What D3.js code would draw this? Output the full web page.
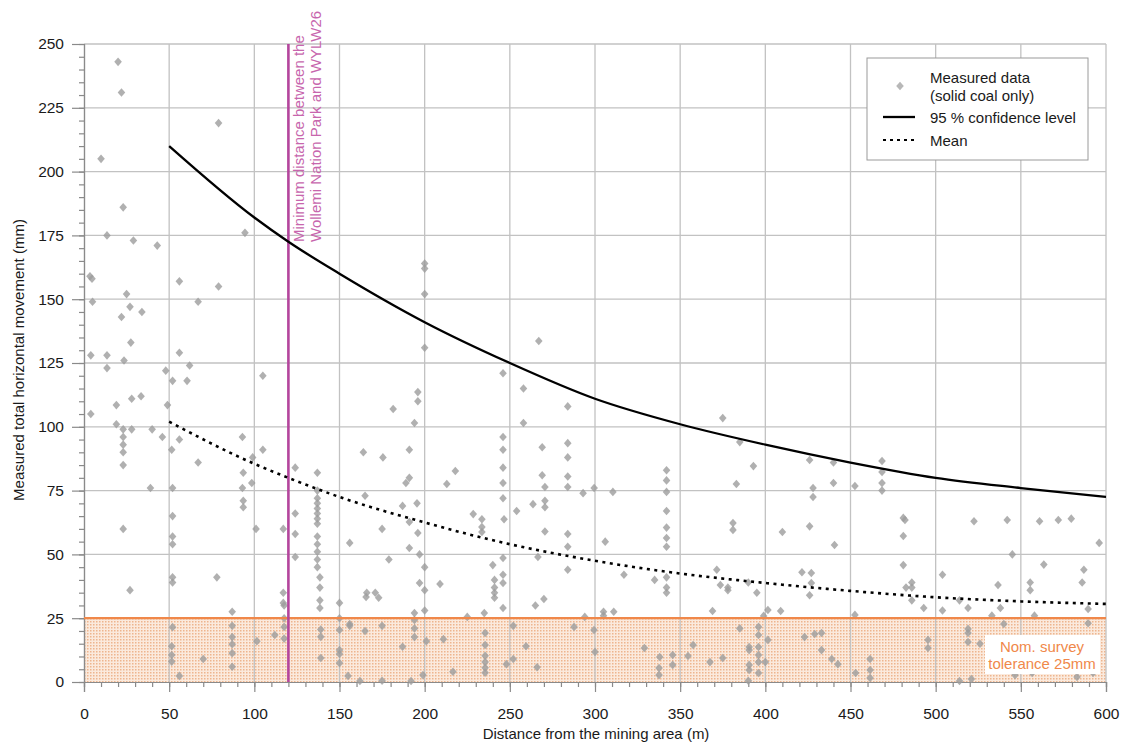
<!DOCTYPE html>
<html><head><meta charset="utf-8">
<script src="https://cdn.jsdelivr.net/npm/d3@7"></script>
<style>
html,body{margin:0;padding:0;background:#fff;}
svg{display:block;font-family:"Liberation Sans",Arial,sans-serif;}
</style></head>
<body><svg id="c" width="1121" height="744"></svg>
<script>
// ---- data ----
const xTicks = [0,50,100,150,200,250,300,350,400,450,500,550,600];
const yTicks = [0,25,50,75,100,125,150,175,200,225,250];
const curveDist = [50,100,120,150,200,250,300,350,400,450,500,550,600];
const conf95 = [210,182,172.5,160,141,125,111,101,93,86,80,76,72.5];
const meanVals = [102,85.5,80,72.5,62.5,54,47.5,42.5,38.8,35.7,33.2,31.6,30.6];
const boundaryDist = 120;
const toleranceMM = 25;
const measuredDist = [
20,22,10,23,13.5,29,43,79,94.5,3.5,4.7,56,79,25,27,34,22,5,67,27.5,4,13.5,13.5,23.5,56,62,48,52,60.5,105,28,33.5,19,4,49,19,23,28,40,46,23,
23,23,23,56,51.5,93,105,99,67,93.5,124,137,39,52,93,98.5,93.5,93.5,124,137,137,137,137,137,137,137,23,52,52,52,124,124,137,137,137,137,137,101,117,156,164,138.5,138.5,138.5,78,52,52,27,87,117,117,138.5,150,166,171,
52,51.5,51.5,51.5,56,70,87,87,87,87,87,101.5,112,117.5,117.5,117.5,117.5,139,139,139,150,150,150,150,150,156,155,
200,200,200,200,267,196,196,258,246,181.5,194,258,284,246,246,246,269,284,284,284,191,175.5,218,191,269,299.5,
189,213,246,246,270.6,284,293,310.5,165,187,195.5,263.6,270.6,270.6,254,228.5,233.6,233.6,233.6,246.6,191,175,270.6,284,284,306,196,191,197,179,246,240,266.5,284,317,246,241,241,241,241,246,197,209,165.6,173,270,265,246,235,194,194,225,305,305,311,294,
156,165,175,194,194,201,211,187,162,175,192,199,216.6,235.5,235.5,235.5,235.5,235.5,235.5,252,252,248,259.5,266,287.7,299.4,300,200,200,200,
375,385,393,383,342,342,342,342,342,342,342,342,342,342,426,440,440,428,428,452.6,468.5,468.5,468.5,468.5,381,381,410,426,440.6,481,481,481,486,486,486,335,371.5,373.6,378,378,390,395,421.5,427,427,426,369,401.5,409,399,452.6,
385,396,396,396,401.5,390.5,390.5,396,396,400,390.5,390.5,396,390,423,429,433,433,439,442.6,453,461.5,461.5,461.5,329,338,345.6,345.6,337.6,337.6,354.6,357.6,367.5,375,
504,519,533,540,558,589.5,589.5,495.5,495.5,519,519,519,526,521,514,546.6,556.6,583,592.4,
522.5,542,561,572,579.6,545,555.5,563.5,586,596,587,504,536.6,514,555.5,493,482.6,538,482
];
const measuredMove = [
243,231,205,186,175,173,171,219,176,159,158,157,155,152,147,145,143,149,149,133,128,128,123,126,129,124,122,118,118,120,111,112,108.5,105,108.5,101,99,99,99,96,96,
93,90,85,95,91,96,91,88,86,82,84,82,76,76,76,78,71,68.5,66,75,72,70,68,66,64,62,60,65,57,54,58,49,57,54,51,48,45,60,60,54.5,90,41,37,32,41,41,39,36,27.5,35,31,29,31,35,35,
21.5,14,10.6,8,2.4,9,22,17.6,14.8,11.3,6,16,18.4,25,21.6,17,30,20.6,17.7,9.4,25,20.4,12.5,11,7.4,22,2.4,
164,162,152,131,133.6,113.6,110,115,121,107,101.5,101.5,108,96,91,84,92,93.6,88,80.5,91,88,82.7,80,81,76,
78,77.6,78,72,76.4,76.4,74,74.5,73,69,70,69.7,71,68.5,67,65.8,63.8,60.7,58.8,63.8,62.7,60,59,58,53,55,58.4,52.5,50,48,48.6,45.8,49,44,42,42,40,37,35,33,38.8,38.8,38.4,33.3,33,32.5,30,29,27,27,24.3,25.5,27.5,26,27.5,25.5,
22.7,20,22,21,17.6,16,16.8,13.8,0.4,0.5,0.4,2.7,4,19.2,14.5,10.3,7.8,5.6,3.6,22,9,7,14,5.8,21.6,20.4,11.8,45,36,28,
103.4,94,84.6,77.6,83,79,74.5,67,60.5,56.4,53,41,37,35,87,86,78,76,72.5,76.8,86.6,82.3,78,75,62.3,59.6,58.8,61,53.7,64.3,57.2,45.8,39,37,32,40,44,38,37,36,39,35,43,42.7,38.8,34,27.8,28.2,27.8,25.9,26.3,
21,21.6,18.4,13.7,16.5,13.7,12.5,10.6,7.8,7.8,6.7,4.7,3.5,0.5,17.6,18.8,19.2,12.5,9,7,3.5,9,4.7,1.6,13.3,9.8,10.6,6.7,5.5,2.7,10.2,14.5,7.8,9.4,
28,29,26,22.7,26,28.6,23,16.5,13.3,20.8,19.2,15.7,15,1.2,0.4,2.7,3.5,2,3.5,
63,63.5,63,63.5,64,50,39,46,39,54.5,44,42,38,32,36,29,37,29,63.5
];
const legendLabels = ["Measured data","(solid coal only)","95 % confidence level","Mean"];
const boundaryLabel = ["Minimum distance between the","Wollemi Nation Park and WYLW26"];
const toleranceLabel = ["Nom. survey","tolerance 25mm"];

// ---- drawing ----
const svg = d3.select("#c");
const x = d3.scaleLinear().domain([0,600]).range([84,1106]);
const y = d3.scaleLinear().domain([0,250]).range([682,44]);

const defs = svg.append("defs");
const pat = defs.append("pattern").attr("id","dots").attr("patternUnits","userSpaceOnUse")
  .attr("width",3).attr("height",3);
pat.append("rect").attr("width",3).attr("height",3).attr("fill","#fbeadd");
pat.append("rect").attr("x",0).attr("y",0).attr("width",1.5).attr("height",1.5).attr("fill","#eeb58e");

// tolerance shading
svg.append("rect").attr("x",x(0)).attr("y",y(toleranceMM))
  .attr("width",x(600)-x(0)).attr("height",y(0)-y(toleranceMM)).attr("fill","url(#dots)");

// grid
const grid = svg.append("g").attr("stroke","#c2c2c2").attr("stroke-width",1.3);
grid.selectAll(".v").data(xTicks.filter(d=>d>0)).join("line")
  .attr("x1",d=>x(d)).attr("x2",d=>x(d)).attr("y1",y(250)).attr("y2",y(0));
grid.selectAll(".h").data(yTicks.filter(d=>d>0)).join("line")
  .attr("x1",x(0)).attr("x2",x(600)).attr("y1",d=>y(d)).attr("y2",d=>y(d));

// axes
const axisColor = "#8a8a8a";
const xAxis = svg.append("g").attr("transform",`translate(0,${y(0)})`)
  .call(d3.axisBottom(x).tickValues(xTicks).tickSize(10).tickPadding(16).tickFormat(d3.format("d")));
const xMinor = svg.append("g").attr("transform",`translate(0,${y(0)})`)
  .call(d3.axisBottom(x).tickValues(d3.range(0,601,10)).tickSize(5).tickFormat(""));
const yAxis = svg.append("g").attr("transform",`translate(${x(0)},0)`)
  .call(d3.axisLeft(y).tickValues(yTicks).tickSize(12).tickPadding(8).tickFormat(d3.format("d")));
const yMinor = svg.append("g").attr("transform",`translate(${x(0)},0)`)
  .call(d3.axisLeft(y).tickValues(d3.range(0,251,5)).tickSize(5).tickFormat(""));
[xAxis,xMinor,yAxis,yMinor].forEach(g=>{
  g.select(".domain").attr("stroke",axisColor).attr("stroke-width",1.2);
  g.selectAll(".tick line").attr("stroke",axisColor).attr("stroke-width",1.2);
  g.selectAll(".tick text").attr("font-size",15.5).attr("fill","#1a1a1a")
    .attr("font-family","'Liberation Sans',Arial,sans-serif");
});

// measured points (squat diamonds)
const diamond = "M0,-4.3L3.8,0L0,4.3L-3.8,0Z";
const pts = measuredDist.map((d,i)=>({d, m: measuredMove[i]}));
svg.append("g").selectAll("path").data(pts).join("path")
  .attr("d",diamond)
  .attr("transform",p=>`translate(${x(p.d)},${y(p.m)})`)
  .attr("fill","#9c9c9c").attr("opacity",0.8);

// tolerance line
svg.append("line").attr("x1",x(0)).attr("x2",x(600)).attr("y1",y(toleranceMM)).attr("y2",y(toleranceMM))
  .attr("stroke","#f0884a").attr("stroke-width",2.2);

// boundary line
svg.append("line").attr("x1",x(boundaryDist)).attr("x2",x(boundaryDist)).attr("y1",y(250)).attr("y2",y(0))
  .attr("stroke","#b4459d").attr("stroke-width",2.6);
const bl = svg.append("text").attr("transform",`translate(${x(boundaryDist)+16},242) rotate(-90)`)
  .attr("font-size",15).attr("fill","#c766ad");
bl.selectAll("tspan").data(boundaryLabel).join("tspan")
  .attr("x",0).attr("y",(d,i)=>i*17).text(d=>d);

// curves
const line = d3.line().x((d,i)=>x(curveDist[i])).y(d=>y(d)).curve(d3.curveMonotoneX);
svg.append("path").attr("d",line(conf95)).attr("fill","none").attr("stroke","#000").attr("stroke-width",2.3);
svg.append("path").attr("d",line(meanVals)).attr("fill","none").attr("stroke","#000")
  .attr("stroke-width",2.6).attr("stroke-dasharray","3,4.5");

// tolerance label
svg.append("rect").attr("x",985).attr("y",635).attr("width",115).attr("height",39).attr("fill","#fff");
const tl = svg.append("text").attr("text-anchor","middle").attr("font-size",15).attr("fill","#f0884a");
tl.selectAll("tspan").data(toleranceLabel).join("tspan")
  .attr("x",1042).attr("y",(d,i)=>652+i*17).text(d=>d);

// legend
const lg = svg.append("g");
lg.append("rect").attr("x",867).attr("y",58).attr("width",221).attr("height",102)
  .attr("fill","#fff").attr("stroke","#9a9a9a").attr("stroke-width",1);
lg.append("path").attr("d",diamond).attr("transform","translate(900,86)").attr("fill","#b8b8b8");
lg.append("line").attr("x1",883).attr("x2",915).attr("y1",117).attr("y2",117).attr("stroke","#000").attr("stroke-width",2.3);
lg.append("line").attr("x1",883).attr("x2",915).attr("y1",140).attr("y2",140).attr("stroke","#000")
  .attr("stroke-width",2).attr("stroke-dasharray","3,4");
const ly = [83,101,123,146];
lg.selectAll("text").data(legendLabels).join("text")
  .attr("x",930).attr("y",(d,i)=>ly[i]).attr("font-size",15).attr("fill","#1a1a1a").text(d=>d);

// axis titles
svg.append("text").attr("x",596).attr("y",739).attr("text-anchor","middle").attr("font-size",15)
  .attr("fill","#1a1a1a").text("Distance from the mining area (m)");
svg.append("text").attr("transform","translate(24,360) rotate(-90)").attr("text-anchor","middle")
  .attr("font-size",15).attr("fill","#1a1a1a").text("Measured total horizontal movement (mm)");
</script></body></html>
